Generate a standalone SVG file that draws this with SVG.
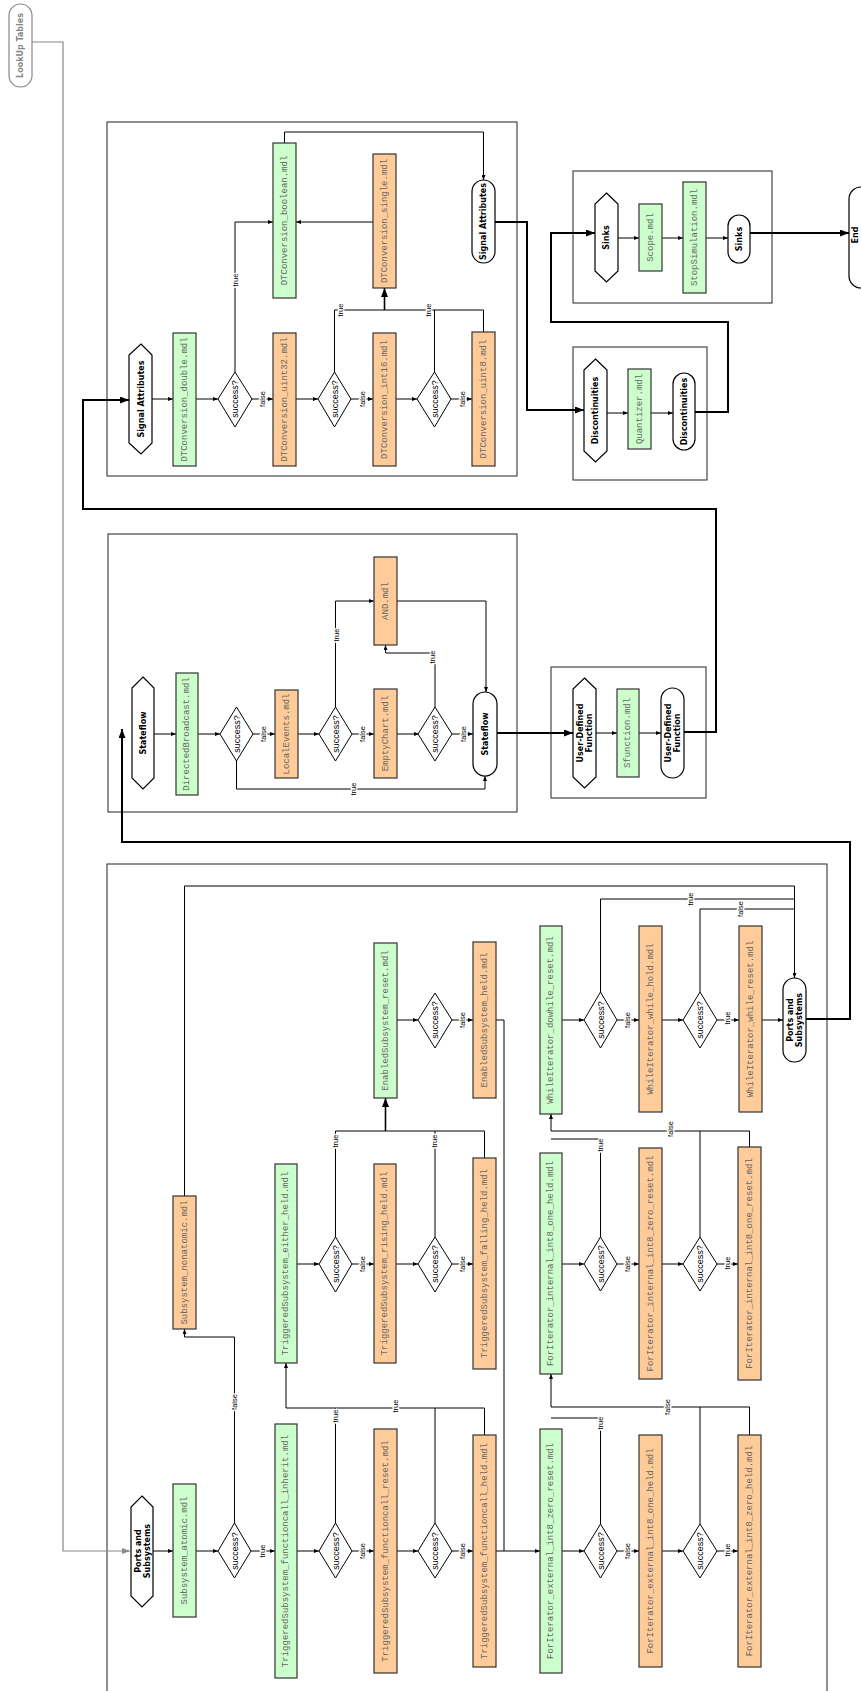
<svg xmlns="http://www.w3.org/2000/svg" width="861" height="1691" viewBox="0 0 861 1691">
<style>
.bg{fill:#fff}
.cl{fill:none;stroke:#222;stroke-width:1}
.g{fill:#ccffcc;stroke:#333;stroke-width:1.2}
.o{fill:#ffcc99;stroke:#333;stroke-width:1.2}
.d{fill:#fff;stroke:#000;stroke-width:1}
.t{fill:#fff;stroke:#000;stroke-width:1.2}
.m{font-family:"Liberation Mono",monospace;font-size:9px;fill:#666;text-anchor:middle;dominant-baseline:central}
.b{font-family:"DejaVu Sans",sans-serif;font-weight:bold;font-size:8px;fill:#000;text-anchor:middle;dominant-baseline:central}
.s{font-family:"Liberation Sans",sans-serif;font-size:9px;fill:#000;text-anchor:middle;dominant-baseline:central}
.e{fill:none;stroke:#000;stroke-width:1;marker-end:url(#a)}
.n{fill:none;stroke:#000;stroke-width:1}
.k{fill:none;stroke:#000;stroke-width:2;marker-end:url(#A)}
.gr{fill:none;stroke:#888;stroke-width:1.2;marker-end:url(#G)}
.el{font-family:"Liberation Sans",sans-serif;font-size:7.5px;fill:#000;text-anchor:middle;dominant-baseline:central;stroke:#fff;stroke-width:2.5;paint-order:stroke}
</style>
<defs>
<marker id="a" markerUnits="userSpaceOnUse" markerWidth="5" markerHeight="4" refX="5" refY="2" orient="auto"><path d="M0,0 L5,2 L0,4 z" fill="#000"/></marker>
<marker id="A" markerUnits="userSpaceOnUse" markerWidth="9" markerHeight="7" refX="9" refY="3.5" orient="auto"><path d="M0,0 L9,3.5 L0,7 z" fill="#000"/></marker>
<marker id="G" markerUnits="userSpaceOnUse" markerWidth="8" markerHeight="6" refX="8" refY="3" orient="auto"><path d="M0,0 L8,3 L0,6 z" fill="#888"/></marker>
</defs>
<rect class="bg" x="0" y="0" width="861" height="1691"/>

<!-- clusters -->
<g id="clusters">
<rect class="cl" x="107" y="122" width="410" height="354"/>
<rect class="cl" x="573" y="171" width="199" height="132"/>
<rect class="cl" x="573" y="347" width="134" height="133"/>
<rect class="cl" x="108" y="534" width="409" height="278"/>
<rect class="cl" x="551" y="667" width="155" height="131"/>
<rect class="cl" x="107" y="864" width="720" height="840"/>
</g>

<!-- connectors -->
<g id="edges">
<path class="gr" d="M32,42 H63 V1551 H130"/>
<!-- Signal Attributes -->
<path class="e" d="M152,399 H173"/>
<path class="e" d="M196,399 H218"/>
<path class="e" d="M252,399 H273"/>
<path class="e" d="M296,399 H318"/>
<path class="e" d="M351,399 H373"/>
<path class="e" d="M396,399 H417"/>
<path class="e" d="M451,399 H472"/>
<path class="e" d="M235,372 V222 H273"/>
<path class="e" d="M373,222 H296"/>
<path class="n" d="M334.5,372 V310 H483.5 V332"/>
<path class="n" d="M434.5,372 V310"/>
<path class="k" d="M384.5,310 V288" style="stroke-width:1.6"/>
<path class="e" d="M284.5,143 V132 H483.5 V180"/>
<text class="el" transform="translate(262,399) rotate(-90)">false</text>
<text class="el" transform="translate(362,399) rotate(-90)">false</text>
<text class="el" transform="translate(462,399) rotate(-90)">false</text>
<text class="el" transform="translate(235,280) rotate(-90)">true</text>
<text class="el" transform="translate(340,310) rotate(-90)">true</text>
<text class="el" transform="translate(428,310) rotate(-90)">true</text>
<path class="k" d="M495,222 H527 V410 H584"/>
<!-- Discontinuities -->
<path class="e" d="M607,413 H628"/>
<path class="e" d="M651,413 H673"/>
<path class="k" d="M695,412 H728 V322 H551 V233 H595"/>
<!-- Sinks -->
<path class="e" d="M618,238 H639"/>
<path class="e" d="M662,238 H683"/>
<path class="e" d="M706,238 H728"/>
<path class="k" d="M750,233 H849"/>
<!-- Stateflow -->
<path class="e" d="M154,734 H176"/>
<path class="e" d="M198,734 H220"/>
<path class="e" d="M253,734 H275"/>
<path class="e" d="M298,734 H319"/>
<path class="e" d="M352,734 H374"/>
<path class="e" d="M397,734 H419"/>
<path class="e" d="M452,734 H473"/>
<path class="e" d="M236.5,761 V789 H485 V776"/>
<path class="e" d="M335.5,707 V601 H374"/>
<path class="e" d="M435,707 V653 H385.5 V645"/>
<path class="e" d="M397,601 H486 V692"/>
<text class="el" transform="translate(263,734) rotate(-90)">false</text>
<text class="el" transform="translate(362,734) rotate(-90)">false</text>
<text class="el" transform="translate(463,734) rotate(-90)">false</text>
<text class="el" transform="translate(353,789) rotate(-90)">true</text>
<text class="el" transform="translate(336,635) rotate(-90)">true</text>
<text class="el" transform="translate(432,657) rotate(-90)">true</text>
<path class="k" d="M497,733 H573"/>
<!-- User-Defined Function -->
<path class="e" d="M596,733 H617"/>
<path class="e" d="M639,733 H661"/>
<path class="k" d="M684,732 H716 V509 H83 V400 H129"/>
<!-- Ports and Subsystems -->
<path class="k" d="M806,1019 H850 V842 H122 V729"/>
<path class="e" d="M153,1551 H173"/>
<path class="e" d="M196,1551 H218"/>
<path class="e" d="M251,1551 H275"/>
<path class="e" d="M297,1551 H319"/>
<path class="e" d="M352,1551 H374"/>
<path class="e" d="M397,1551 H418"/>
<path class="e" d="M452,1551 H473"/>
<path class="e" d="M496,1551 H540"/>
<path class="n" d="M496,1020 H504 V1551"/>
<path class="e" d="M562,1551 H584"/>
<path class="e" d="M617,1551 H639"/>
<path class="e" d="M662,1551 H683"/>
<path class="e" d="M717,1551 H738"/>
<path class="e" d="M234.5,1523 V1337 H184.5 V1329"/>
<path class="e" d="M184.5,1196 V886 H794.5 V978"/>
<path class="n" d="M335.5,1523 V1408"/>
<path class="n" d="M435,1523 V1408"/>
<path class="e" d="M484.5,1435 V1408 H286 V1363"/>
<path class="e" d="M297,1264 H319"/>
<path class="e" d="M352,1264 H374"/>
<path class="e" d="M396,1264 H418"/>
<path class="e" d="M452,1264 H473"/>
<path class="n" d="M335.5,1237 V1131"/>
<path class="n" d="M435,1237 V1131"/>
<path class="n" d="M484.5,1158 V1131 H335.5"/>
<path class="k" d="M385.5,1131 V1098" style="stroke-width:1.6"/>
<path class="e" d="M397,1020 H418"/>
<path class="e" d="M452,1020 H473"/>
<path class="e" d="M562,1020 H584"/>
<path class="e" d="M617,1020 H639"/>
<path class="e" d="M662,1020 H683"/>
<path class="e" d="M717,1020 H739"/>
<path class="e" d="M762,1020 H783"/>
<path class="n" d="M600.5,992 V899 H794.5"/>
<path class="n" d="M700,992 V909 H794.5"/>
<path class="e" d="M562,1264 H584"/>
<path class="e" d="M617,1264 H639"/>
<path class="e" d="M662,1264 H683"/>
<path class="e" d="M717,1264 H738"/>
<path class="n" d="M600.5,1237 V1139 H551"/>
<path class="n" d="M700,1237 V1131"/>
<path class="e" d="M749.5,1147 V1131 H551 V1114"/>
<path class="n" d="M600.5,1524 V1418 H551"/>
<path class="n" d="M700,1524 V1407"/>
<path class="e" d="M749.5,1435 V1407 H551 V1374"/>
<text class="el" transform="translate(262,1551) rotate(-90)">true</text>
<text class="el" transform="translate(362,1551) rotate(-90)">false</text>
<text class="el" transform="translate(462,1551) rotate(-90)">false</text>
<text class="el" transform="translate(627,1551) rotate(-90)">false</text>
<text class="el" transform="translate(727,1550) rotate(-90)">true</text>
<text class="el" transform="translate(234,1402) rotate(-90)">false</text>
<text class="el" transform="translate(335,1416) rotate(-90)">true</text>
<text class="el" transform="translate(395,1406) rotate(-90)">true</text>
<text class="el" transform="translate(362,1264) rotate(-90)">false</text>
<text class="el" transform="translate(462,1264) rotate(-90)">false</text>
<text class="el" transform="translate(335,1141) rotate(-90)">true</text>
<text class="el" transform="translate(434,1141) rotate(-90)">true</text>
<text class="el" transform="translate(462,1020) rotate(-90)">false</text>
<text class="el" transform="translate(627,1020) rotate(-90)">false</text>
<text class="el" transform="translate(727,1018) rotate(-90)">true</text>
<text class="el" transform="translate(690,899) rotate(-90)">true</text>
<text class="el" transform="translate(740,909) rotate(-90)">false</text>
<text class="el" transform="translate(627,1264) rotate(-90)">false</text>
<text class="el" transform="translate(727,1263) rotate(-90)">true</text>
<text class="el" transform="translate(600,1145) rotate(-90)">true</text>
<text class="el" transform="translate(670,1129) rotate(-90)">false</text>
<text class="el" transform="translate(600,1423) rotate(-90)">true</text>
<text class="el" transform="translate(667,1407) rotate(-90)">false</text>
</g>

<!-- nodes -->
<g id="lookup"><rect x="9" y="4" width="23" height="83" rx="11.5" fill="#fff" stroke="#888" stroke-width="1.2"/><text class="b" style="fill:#888" transform="translate(20.5,45.5) rotate(-90)">LookUp Tables</text></g>

<g id="sa_start"><polygon class="t" points="141,344 152,355 152,443 141,454 129,443 129,355"/><text class="b" transform="translate(141,399) rotate(-90)">Signal Attributes</text></g>
<g id="dt_double"><rect class="g" x="173" y="333" width="23" height="133"/><text class="m" transform="translate(184.5,399.5) rotate(-90)">DTConversion_double.mdl</text></g>
<g id="sa_d1"><polygon class="d" points="235,372 252,399 235,427 218,399"/><text class="s" transform="translate(235,399) rotate(-90)">success?</text></g>
<g id="dt_uint32"><rect class="o" x="273" y="333" width="23" height="133"/><text class="m" transform="translate(284.5,399.5) rotate(-90)">DTConversion_uint32.mdl</text></g>
<g id="sa_d2"><polygon class="d" points="334.5,372 351,399 334.5,427 318,399"/><text class="s" transform="translate(334.5,399) rotate(-90)">success?</text></g>
<g id="dt_int16"><rect class="o" x="373" y="333" width="23" height="133"/><text class="m" transform="translate(384.5,399.5) rotate(-90)">DTConversion_int16.mdl</text></g>
<g id="sa_d3"><polygon class="d" points="434.5,372 451,399 434.5,427 417,399"/><text class="s" transform="translate(434.5,399) rotate(-90)">success?</text></g>
<g id="dt_uint8"><rect class="o" x="472" y="332" width="23" height="134"/><text class="m" transform="translate(483.5,399) rotate(-90)">DTConversion_uint8.mdl</text></g>
<g id="dt_boolean"><rect class="g" x="273" y="143" width="23" height="155"/><text class="m" transform="translate(284.5,220.5) rotate(-90)">DTConversion_boolean.mdl</text></g>
<g id="dt_single"><rect class="o" x="373" y="154" width="23" height="134"/><text class="m" transform="translate(384.5,221) rotate(-90)">DTConversion_single.mdl</text></g>
<g id="sa_end"><rect class="t" x="472" y="180" width="23" height="83" rx="11.5"/><text class="b" transform="translate(483.5,221.5) rotate(-90)">Signal Attributes</text></g>

<g id="disc_start"><polygon class="t" points="595.5,359 607,370 607,451 595.5,462 584,451 584,370"/><text class="b" transform="translate(595.5,410.5) rotate(-90)">Discontinuities</text></g>
<g id="quantizer"><rect class="g" x="628" y="369" width="23" height="80"/><text class="m" transform="translate(639.5,409) rotate(-90)">Quantizer.mdl</text></g>
<g id="disc_end"><rect class="t" x="673" y="373" width="22" height="77" rx="11"/><text class="b" transform="translate(684,411.5) rotate(-90)">Discontinuities</text></g>

<g id="sinks_start"><polygon class="t" points="606.5,193 618,204 618,271 606.5,282 595,271 595,204"/><text class="b" transform="translate(606.5,237.5) rotate(-90)">Sinks</text></g>
<g id="scope"><rect class="g" x="639" y="204" width="23" height="67"/><text class="m" transform="translate(650.5,237.5) rotate(-90)">Scope.mdl</text></g>
<g id="stopsim"><rect class="g" x="683" y="182" width="23" height="111"/><text class="m" transform="translate(694.5,237.5) rotate(-90)">StopSimulation.mdl</text></g>
<g id="sinks_end"><rect class="t" x="728" y="215" width="22" height="48" rx="11"/><text class="b" transform="translate(739,239) rotate(-90)">Sinks</text></g>
<g id="end"><rect class="t" x="849" y="187" width="40" height="101" rx="12"/><text class="b" transform="translate(855,235) rotate(-90)">End</text></g>

<g id="sf_start"><polygon class="t" points="143,677 154,688 154,778 143,789 132,778 132,688"/><text class="b" transform="translate(143,733) rotate(-90)">Stateflow</text></g>
<g id="directed"><rect class="g" x="176" y="673" width="22" height="122"/><text class="m" transform="translate(187,734) rotate(-90)">DirectedBroadcast.mdl</text></g>
<g id="sf_d1"><polygon class="d" points="236.5,707 253,734 236.5,761 220,734"/><text class="s" transform="translate(236.5,734) rotate(-90)">success?</text></g>
<g id="localevents"><rect class="o" x="275" y="690" width="23" height="88"/><text class="m" transform="translate(286.5,734) rotate(-90)">LocalEvents.mdl</text></g>
<g id="sf_d2"><polygon class="d" points="335.5,707 352,734 335.5,761 319,734"/><text class="s" transform="translate(335.5,734) rotate(-90)">success?</text></g>
<g id="emptychart"><rect class="o" x="374" y="689" width="23" height="89"/><text class="m" transform="translate(385.5,733.5) rotate(-90)">EmptyChart.mdl</text></g>
<g id="sf_d3"><polygon class="d" points="435,707 452,734 435,761 418,734"/><text class="s" transform="translate(435,734) rotate(-90)">success?</text></g>
<g id="and"><rect class="o" x="374" y="557" width="23" height="88"/><text class="m" transform="translate(385.5,601) rotate(-90)">AND.mdl</text></g>
<g id="sf_end"><rect class="t" x="473" y="692" width="24" height="84" rx="12"/><text class="b" transform="translate(485,734) rotate(-90)">Stateflow</text></g>

<g id="udf_start"><polygon class="t" points="584.5,678 596,689 596,777 584.5,788 573,777 573,689"/><text class="b" transform="translate(584.5,733) rotate(-90)"><tspan x="0" y="-4.5">User-Defined</tspan><tspan x="0" y="4.5">Function</tspan></text></g>
<g id="sfunction"><rect class="g" x="617" y="689" width="22" height="88"/><text class="m" transform="translate(628,733) rotate(-90)">Sfunction.mdl</text></g>
<g id="udf_end"><rect class="t" x="661" y="688" width="23" height="90" rx="11.5"/><text class="b" transform="translate(672.5,733) rotate(-90)"><tspan x="0" y="-4.5">User-Defined</tspan><tspan x="0" y="4.5">Function</tspan></text></g>

<g id="ps_start"><polygon class="t" points="142,1496 153,1507 153,1596 142,1607 131,1596 131,1507"/><text class="b" transform="translate(142,1551) rotate(-90)"><tspan x="0" y="-4.5">Ports and</tspan><tspan x="0" y="4.5">Subsystems</tspan></text></g>
<g id="atomic"><rect class="g" x="173" y="1484" width="23" height="133"/><text class="m" transform="translate(184.5,1550.5) rotate(-90)">Subsystem_atomic.mdl</text></g>
<g id="ps_d_a"><polygon class="d" points="234.5,1523 251,1551 234.5,1578 218,1551"/><text class="s" transform="translate(234.5,1551) rotate(-90)">success?</text></g>
<g id="fc_inherit"><rect class="g" x="275" y="1424" width="22" height="254"/><text class="m" transform="translate(286,1551) rotate(-90)">TriggeredSubsystem_functioncall_inherit.mdl</text></g>
<g id="ps_d_fi"><polygon class="d" points="335.5,1523 352,1551 335.5,1578 319,1551"/><text class="s" transform="translate(335.5,1551) rotate(-90)">success?</text></g>
<g id="fc_reset"><rect class="o" x="374" y="1429" width="23" height="244"/><text class="m" transform="translate(385.5,1551) rotate(-90)">TriggeredSubsystem_functioncall_reset.mdl</text></g>
<g id="ps_d_fr"><polygon class="d" points="435,1523 452,1551 435,1578 418,1551"/><text class="s" transform="translate(435,1551) rotate(-90)">success?</text></g>
<g id="fc_held"><rect class="o" x="473" y="1435" width="23" height="232"/><text class="m" transform="translate(484.5,1551) rotate(-90)">TriggeredSubsystem_functioncall_held.mdl</text></g>
<g id="nonatomic"><rect class="o" x="173" y="1196" width="23" height="133"/><text class="m" transform="translate(184.5,1262.5) rotate(-90)">Subsystem_nonatomic.mdl</text></g>
<g id="either_held"><rect class="g" x="275" y="1164" width="22" height="199"/><text class="m" transform="translate(286,1263.5) rotate(-90)">TriggeredSubsystem_either_held.mdl</text></g>
<g id="ps_d_eh"><polygon class="d" points="335.5,1237 352,1264 335.5,1292 319,1264"/><text class="s" transform="translate(335.5,1264) rotate(-90)">success?</text></g>
<g id="rising_held"><rect class="o" x="374" y="1164" width="22" height="199"/><text class="m" transform="translate(385,1263.5) rotate(-90)">TriggeredSubsystem_rising_held.mdl</text></g>
<g id="ps_d_rh"><polygon class="d" points="435,1237 452,1264 435,1292 418,1264"/><text class="s" transform="translate(435,1264) rotate(-90)">success?</text></g>
<g id="falling_held"><rect class="o" x="473" y="1158" width="23" height="211"/><text class="m" transform="translate(484.5,1263.5) rotate(-90)">TriggeredSubsystem_falling_held.mdl</text></g>
<g id="en_reset"><rect class="g" x="374" y="943" width="23" height="155"/><text class="m" transform="translate(385.5,1020.5) rotate(-90)">EnabledSubsystem_reset.mdl</text></g>
<g id="ps_d_er"><polygon class="d" points="435,993 452,1020 435,1048 418,1020"/><text class="s" transform="translate(435,1020) rotate(-90)">success?</text></g>
<g id="en_held"><rect class="o" x="473" y="942" width="23" height="156"/><text class="m" transform="translate(484.5,1020) rotate(-90)">EnabledSubsystem_held.mdl</text></g>
<g id="dowhile_reset"><rect class="g" x="540" y="926" width="22" height="188"/><text class="m" transform="translate(551,1020) rotate(-90)">WhileIterator_dowhile_reset.mdl</text></g>
<g id="ps_d_dw"><polygon class="d" points="600.5,992 617,1020 600.5,1048 584,1020"/><text class="s" transform="translate(600.5,1020) rotate(-90)">success?</text></g>
<g id="while_hold"><rect class="o" x="639" y="926" width="23" height="186"/><text class="m" transform="translate(650.5,1019) rotate(-90)">WhileIterator_while_hold.mdl</text></g>
<g id="ps_d_wh"><polygon class="d" points="700,992 717,1020 700,1048 683,1020"/><text class="s" transform="translate(700,1020) rotate(-90)">success?</text></g>
<g id="while_reset"><rect class="o" x="739" y="926" width="23" height="186"/><text class="m" transform="translate(750.5,1019) rotate(-90)">WhileIterator_while_reset.mdl</text></g>
<g id="ps_end"><rect class="t" x="783" y="978" width="23" height="84" rx="11.5"/><text class="b" transform="translate(794.5,1020) rotate(-90)"><tspan x="0" y="-4.5">Ports and</tspan><tspan x="0" y="4.5">Subsystems</tspan></text></g>
<g id="int_one_held"><rect class="g" x="540" y="1153" width="22" height="221"/><text class="m" transform="translate(551,1263.5) rotate(-90)">ForIterator_internal_int8_one_held.mdl</text></g>
<g id="ps_d_ioh"><polygon class="d" points="600.5,1237 617,1264 600.5,1291 584,1264"/><text class="s" transform="translate(600.5,1264) rotate(-90)">success?</text></g>
<g id="int_zero_reset"><rect class="o" x="639" y="1148" width="23" height="231"/><text class="m" transform="translate(650.5,1263.5) rotate(-90)">ForIterator_internal_int8_zero_reset.mdl</text></g>
<g id="ps_d_izr"><polygon class="d" points="700,1237 717,1264 700,1291 683,1264"/><text class="s" transform="translate(700,1264) rotate(-90)">success?</text></g>
<g id="int_one_reset"><rect class="o" x="738" y="1147" width="23" height="233"/><text class="m" transform="translate(749.5,1263.5) rotate(-90)">ForIterator_internal_int8_one_reset.mdl</text></g>
<g id="ext_zero_reset"><rect class="g" x="540" y="1429" width="22" height="244"/><text class="m" transform="translate(551,1551) rotate(-90)">ForIterator_external_int8_zero_reset.mdl</text></g>
<g id="ps_d_ezr"><polygon class="d" points="600.5,1524 617,1551 600.5,1578 584,1551"/><text class="s" transform="translate(600.5,1551) rotate(-90)">success?</text></g>
<g id="ext_one_held"><rect class="o" x="639" y="1435" width="23" height="232"/><text class="m" transform="translate(650.5,1551) rotate(-90)">ForIterator_external_int8_one_held.mdl</text></g>
<g id="ps_d_eoh"><polygon class="d" points="700,1524 717,1551 700,1578 683,1551"/><text class="s" transform="translate(700,1551) rotate(-90)">success?</text></g>
<g id="ext_zero_held"><rect class="o" x="738" y="1435" width="23" height="232"/><text class="m" transform="translate(749.5,1551) rotate(-90)">ForIterator_external_int8_zero_held.mdl</text></g>
</svg>
